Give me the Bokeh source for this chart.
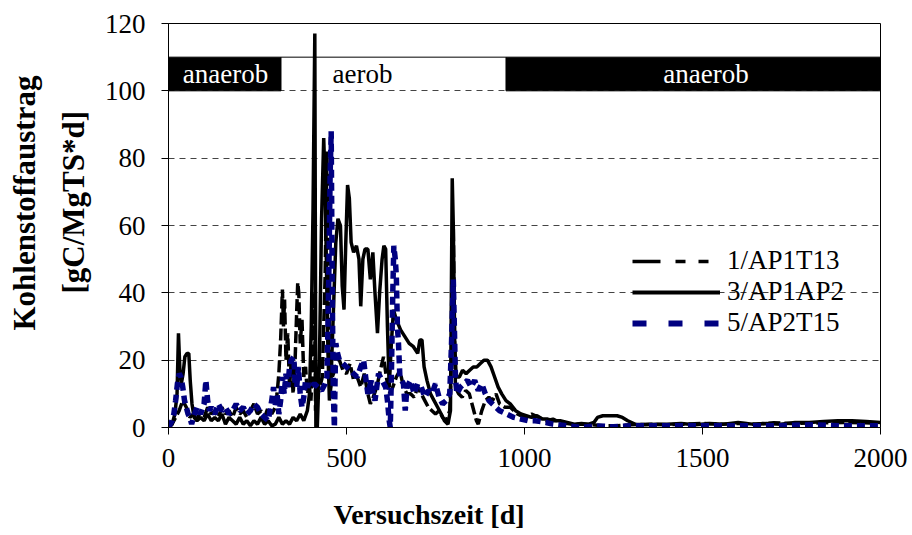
from bokeh.plotting import figure
from bokeh.models import Range1d, FixedTicker, Legend, LegendItem, Label, Title
from bokeh.embed import file_html
from bokeh.resources import INLINE

# --- data -------------------------------------------------------------------
# 1/AP1T13 (black, dashed)
s1_days = [0, 10, 20, 30, 40, 50, 60, 70, 80, 90,
           100, 110, 120, 130, 140, 150, 160, 170, 180, 190,
           200, 210, 220, 230, 240, 250, 260, 270, 280, 290,
           300, 305, 310, 315, 320, 323, 326, 330, 335, 340,
           345, 350, 355, 360, 363, 366, 370, 375, 380, 385,
           390, 395, 400, 405, 410, 413, 418, 425, 432, 440,
           445, 450, 455, 460, 470, 480, 490, 500, 510, 520,
           530, 540, 550, 560, 567, 575, 585, 595, 604, 612,
           620, 630, 640, 650, 660, 670, 680, 690, 700, 710,
           720, 730, 740, 750, 760, 770, 780, 790, 795, 800,
           803, 806, 815, 825, 835, 845, 855, 865, 870, 880,
           890, 900, 910, 920, 930, 945, 960, 980, 1000, 1020,
           1040, 1060, 1080, 1100, 1130, 1160, 1190, 1220, 1260, 1300,
           1350, 1400, 1450, 1500, 1550, 1600, 1650, 1700, 1750, 1800,
           1850, 1900, 1950, 2000]
s1_vals = [0, 1, 3, 5, 8, 6, 3, 4, 2, 5,
           3, 6, 4, 5, 3, 6, 4, 5, 3, 6,
           4, 5, 3, 5, 7, 4, 5, 3, 6, 4,
           6, 10, 16, 26, 41, 30, 38, 20, 28, 12,
           20, 10, 18, 34, 43, 40, 25, 32, 15, 18,
           10, 12, 8, 18, 40, 5, 10, 12, 15, 45,
           82, 40, 12, 15, 18, 20, 17, 16, 19, 14,
           15, 12, 16, 10, 7, 9, 12, 17, 21, 15,
           10, 12, 15, 17, 12, 10, 10, 9, 12, 10,
           8, 6, 5, 4, 5, 3, 2, 5, 20, 60,
           30, 12, 10, 9, 11, 10, 6, 2, 1, 5,
           8, 9, 8, 10, 7, 6, 6, 4, 3, 4,
           3, 2, 2.5, 1.5, 1, 1, 0.8, 0.5, 0.5, 0.8,
           1, 0.8, 1, 1.2, 1, 1.2, 1, 1.4, 1.2, 1.3,
           1.4, 1.5, 1.4, 1.2]

# 3/AP1AP2 (black, solid)
s3_days = [0, 10, 18, 24, 28, 32, 36, 41, 46, 52,
           57, 61, 66, 72, 80, 90, 100, 110, 120, 130,
           140, 150, 160, 170, 180, 190, 200, 210, 220, 230,
           240, 250, 260, 270, 280, 290, 300, 310, 320, 330,
           340, 350, 360, 370, 380, 390, 396, 401, 406, 411,
           414, 418, 424, 430, 436, 440, 444, 448, 452, 456,
           460, 465, 470, 476, 483, 488, 493, 498, 503, 508,
           513, 520, 528, 535, 540, 546, 552, 560, 567, 574,
           580, 587, 593, 600, 605, 610, 615, 620, 626, 632,
           640, 652, 664, 676, 688, 700, 706, 712, 718, 726,
           736, 746, 756, 766, 775, 785, 792, 797, 800, 804,
           808, 817, 826, 836, 846, 856, 866, 876, 886, 896,
           906, 916, 926, 936, 948, 960, 975, 990, 1005, 1020,
           1035, 1050, 1065, 1080, 1100, 1120, 1140, 1160, 1180, 1195,
           1205, 1220, 1240, 1260, 1275, 1290, 1310, 1340, 1370, 1400,
           1440, 1480, 1520, 1560, 1600, 1640, 1680, 1720, 1760, 1800,
           1840, 1880, 1920, 1960, 2000]
s3_vals = [0, 1, 4, 10, 28, 17, 13, 16, 21, 22,
           22, 14, 7, 3, 2, 3, 2, 4, 2, 3,
           2, 4, 1, 3, 2, 1, 3, 1, 2, 0.5,
           2, 1, 3, 1, 2, 0.5, 1, 3, 1, 2,
           1, 3, 2, 4, 2, 5, 10, 30, 65, 117,
           0, 0, 20, 62, 86, 72, 45, 22, 8, 12,
           25, 40, 55, 62, 60, 42, 35, 55, 72, 68,
           55, 52, 54, 50, 36, 50, 53, 53, 44, 52,
           40, 28, 40, 50, 54, 53, 30, 12, 25, 35,
           32, 29, 27, 25, 24, 22, 26, 26, 18, 14,
           10, 8, 6, 4, 2, 1, 5, 74, 60, 25,
           15, 15, 17, 16, 17, 18, 18, 19, 20, 20,
           18, 15, 12, 10, 8, 7, 5, 4, 3.5, 3,
           3.5, 2.5, 2.5, 2, 2, 1.5, 1, 1.2, 1, 1.5,
           3, 3.5, 3.5, 3.5, 3, 2, 1, 0.8, 1, 1,
           1.2, 0.8, 1.2, 1.0, 1.5, 1.0, 1.2, 1.0, 1.5, 1.5,
           1.8, 2.0, 2.0, 1.8, 1.5]

# 5/AP2T15 (navy, dashed)
s5_days = [0, 5, 10, 15, 20, 25, 30, 35, 40, 45,
           50, 55, 60, 65, 70, 80, 90, 100, 105, 110,
           115, 120, 130, 140, 150, 160, 170, 180, 190, 200,
           210, 220, 230, 240, 250, 260, 270, 280, 290, 295,
           300, 305, 310, 315, 320, 325, 330, 335, 340, 345,
           352, 355, 360, 365, 370, 375, 380, 385, 390, 395,
           400, 410, 420, 430, 440, 445, 448, 451, 454, 457,
           460, 463, 466, 468, 470, 475, 480, 490, 500, 510,
           520, 530, 540, 548, 555, 560, 565, 570, 575, 580,
           590, 600, 610, 615, 620, 623, 626, 630, 633, 637,
           640, 643, 646, 650, 660, 665, 670, 680, 690, 700,
           710, 720, 730, 740, 750, 760, 770, 780, 790, 795,
           800, 803, 806, 810, 820, 830, 840, 850, 860, 870,
           880, 890, 900, 910, 920, 930, 950, 970, 990, 1010,
           1030, 1060, 1080, 1120, 1160, 1200, 1250, 1300, 1400, 1500,
           1600, 1700, 1800, 1900, 2000]
s5_vals = [0, 1, 2, 4, 8, 13, 16, 15, 12, 8,
           6, 4, 3, 1, 3, 6, 4, 7, 14, 8,
           5, 6, 4, 7, 5, 6, 4, 5, 7, 5,
           6, 4, 5, 7, 6, 4, 3, 2, 8, 12,
           6, 10, 4, 8, 15, 10, 16, 12, 18, 20,
           21, 14, 12, 18, 10, 6, 9, 14, 12, 13,
           12, 13, 12, 11, 13, 15, 30, 50, 75, 88,
           40, 10, 0, 15, 25, 22, 20, 19, 18, 17,
           16, 15, 18, 20, 14, 10, 12, 14, 10, 8,
           16, 14, 12, 8, 2, 0, 15, 40, 54, 50,
           45, 30, 25, 15, 13, 5, 12, 14, 10, 13,
           12, 9, 11, 10, 13, 9, 7, 8, 10, 25,
           44, 30, 15, 10, 12, 13, 14, 12, 14, 11,
           13, 10, 8, 7, 6, 5, 4, 3, 2.5, 2,
           2, 1.5, 1, 0.5, 0, 0.5, 0.2, 0.5, 0.5, 0.5,
           0.5, 0.5, 0.8, 0.5, 0.5]

series_names = ["1/AP1T13", "3/AP1AP2", "5/AP2T15"]

# operating phases of the reactor (days)
phase_names = ["anaerob", "aerob", "anaerob"]
phase_start = [0, 316, 948]
phase_end = [316, 948, 2000]
phase_label_day = [160, 545, 1510]

x_ticks = [0, 500, 1000, 1500, 2000]
y_ticks = [0, 20, 40, 60, 80, 100, 120]

x_title = "Versuchszeit  [d]"
y_title = ["Kohlenstoffaustrag", "[gC/MgTS*d]"]

SERIF = "Liberation Serif"
NAVY = "#000080"
NAN = float("nan")

# --- figure -----------------------------------------------------------------
p = figure(width=912, height=535, output_backend="svg", toolbar_location=None,
           x_range=Range1d(0, 2000), y_range=Range1d(0, 120),
           min_border_left=168, min_border_right=32,
           min_border_top=23, min_border_bottom=108)
p.background_fill_color = "white"
p.border_fill_color = "white"
p.outline_line_color = "black"
p.outline_line_width = 1

p.xgrid.grid_line_color = None
p.ygrid.grid_line_color = "#444444"
p.ygrid.grid_line_dash = "6 5"
p.ygrid.grid_line_width = 1
p.ygrid.ticker = FixedTicker(ticks=y_ticks)

for ax in (p.xaxis[0], p.yaxis[0]):
    ax.axis_line_color = "black"
    ax.major_tick_line_color = "black"
    ax.major_tick_in = 0
    ax.major_tick_out = 7
    ax.minor_tick_line_color = None
    ax.major_label_text_font = SERIF
    ax.major_label_text_font_size = "27px"
    ax.major_label_text_color = "black"

p.xaxis.ticker = FixedTicker(ticks=x_ticks)
p.yaxis.ticker = FixedTicker(ticks=y_ticks)
p.xaxis.major_label_standoff = 14
p.yaxis.major_label_standoff = 16

# axis titles as side-panel titles, aligned from the start of their panel
bold = dict(text_font=SERIF, text_font_style="bold", text_color="black",
            align="left")
p.add_layout(Title(text=x_title, offset=165, standoff=4, padding=(0, 0, 25, 0),
                   text_font_size="28px", **bold), "below")
p.add_layout(Title(text=y_title[1], offset=134, standoff=22,
                   text_font_size="31px", **bold), "left")
p.add_layout(Title(text=y_title[0], offset=97, standoff=1,
                   text_font_size="31px", **bold), "left")

# --- phase band between 100 and 110 ---------------------------------------
anaer = [i for i, n in enumerate(phase_names) if n == "anaerob"]
aer = [i for i, n in enumerate(phase_names) if n == "aerob"]
p.quad(left=[phase_start[i] for i in anaer], right=[phase_end[i] for i in anaer],
       bottom=100, top=110, fill_color="black", line_color="black")
p.segment(x0=[phase_start[i] for i in aer], x1=[phase_end[i] for i in aer],
          y0=110, y1=110, line_color="black", line_width=1)
for i, name in enumerate(phase_names):
    p.add_layout(Label(x=phase_label_day[i], y=105, text=name,
                       text_align="center", text_baseline="middle",
                       text_font=SERIF, text_font_size="27px",
                       text_color="white" if name == "anaerob" else "black"))

# --- series -----------------------------------------------------------------
r1 = p.line(s1_days, s1_vals, line_color="black", line_width=3.5,
            line_dash="12 4")
r3 = p.line(s3_days, s3_vals, line_color="black", line_width=3.5)
r5 = p.line(s5_days, s5_vals, line_color=NAVY, line_width=5.5,
            line_dash="8 5")

# legend keys with the longer dash rhythm used in the key box
k1 = p.line([NAN], [NAN], line_color="black", line_width=3.5,
            line_dash="28 15 10 13 10 15")
k3 = p.line([NAN], [NAN], line_color="black", line_width=4)
k5 = p.line([NAN], [NAN], line_color=NAVY, line_width=6, line_dash="14 22")

legend = Legend(items=[LegendItem(label=series_names[0], renderers=[k1]),
                       LegendItem(label=series_names[1], renderers=[k3]),
                       LegendItem(label=series_names[2], renderers=[k5])],
                location=(464, 89), orientation="vertical",
                glyph_width=88, glyph_height=28, label_height=28,
                label_standoff=7, spacing=0, padding=0, margin=0,
                border_line_color=None, background_fill_alpha=0,
                label_text_font=SERIF, label_text_font_size="27px",
                label_text_color="black")
p.add_layout(legend, "center")

open("out.html", "w").write(file_html(p, INLINE))
